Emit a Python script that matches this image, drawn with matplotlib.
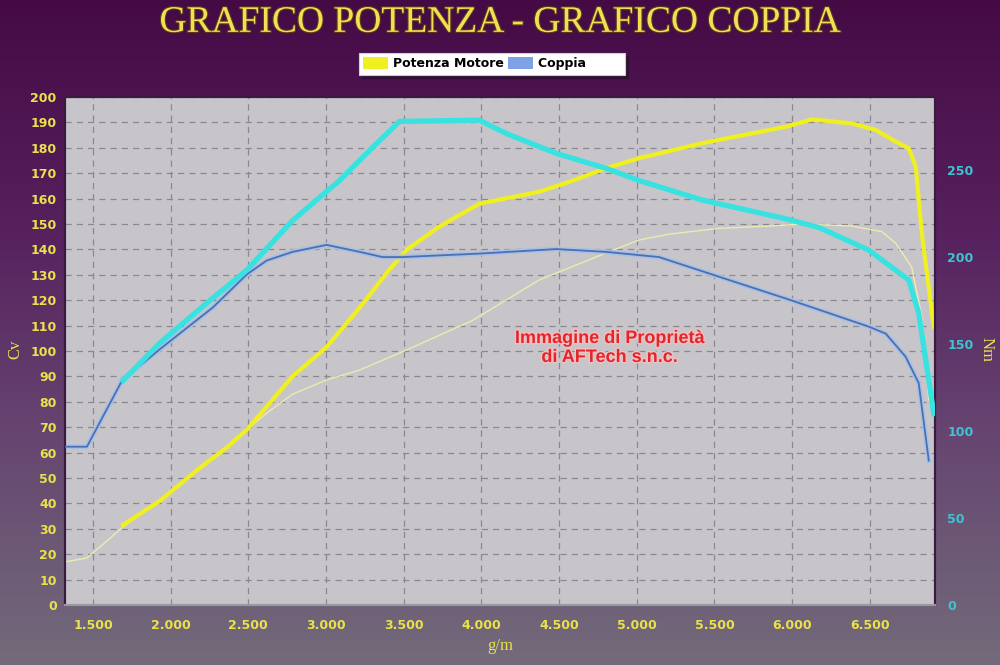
import numpy as np
import matplotlib
matplotlib.use("Agg")
import matplotlib.pyplot as plt
from matplotlib.patches import Patch
from matplotlib.ticker import FuncFormatter
import matplotlib.patheffects as pe

# ---------------- data ----------------
power_rpm = [1693, 1930, 2188, 2361, 2490, 2785, 3004, 3216, 3390, 3518, 3730, 3987,
             4373, 4585, 4803, 5015, 5420, 5961, 6128, 6385, 6539, 6668, 6751, 6796,
             6835, 6912]
power_cv = [31.5, 41, 54, 62, 69, 90, 101.6, 117, 130.7, 139.8, 149, 158,
            162.7, 167, 172, 175.9, 181.8, 188.3, 191.2, 189.6, 187, 182.4, 179.8, 172.6,
            146.4, 109.6]

power_orig_rpm = [1320, 1461, 1693, 1930, 2188, 2361, 2490, 2618, 2785, 3004, 3216, 3518,
                  3942, 4373, 4803, 5015, 5208, 5530, 5851, 6063, 6385, 6578, 6668, 6770,
                  6835, 6880]
power_orig_cv = [17, 18.5, 30.7, 41, 54, 62, 69, 75.6, 83, 88.6, 92.5, 100.4,
                 112, 128, 138.6, 143.7, 146, 148.3, 149.2, 150, 149.2, 147, 142.4, 133,
                 113.5, 80.7]

torque_rpm = [1693, 1930, 2252, 2490, 2785, 3087, 3300, 3473, 3987, 4161, 4482, 4803,
              5015, 5420, 5961, 6173, 6494, 6751, 6815, 6899, 6912]
torque_nm = [129, 150.6, 175, 192.5, 221, 244, 263, 278, 278.7, 271, 259.6, 251,
             244, 232.8, 222, 217, 204, 186.8, 167.8, 117.8, 110]

torque_orig_rpm = [1320, 1461, 1693, 1821, 1930, 2143, 2271, 2490, 2618, 2785, 3004, 3216,
                   3364, 3493, 3987, 4482, 4803, 5144, 5530, 6000, 6494, 6603, 6731, 6815,
                   6880]
torque_orig_nm = [91, 91, 130, 139, 147, 162, 171, 190, 198, 203, 207, 203,
                  200, 200, 202, 204.6, 203, 200, 188.7, 175, 160, 156, 142.7, 127.6,
                  83]

x_ticks = [1500, 2000, 2500, 3000, 3500, 4000, 4500, 5000, 5500, 6000, 6500]
cv_ticks = list(range(0, 201, 10))
nm_ticks = [0, 50, 100, 150, 200, 250]

title = "GRAFICO POTENZA - GRAFICO COPPIA"
legend_labels = ["Potenza Motore", "Coppia"]
watermark = "Immagine di Proprietà\ndi AFTech s.n.c."

# ---------------- styling ----------------
YEL = "#f0f020"
PALE = "#ecebb0"
CYAN = "#38e2e0"
BLUE = "#4a6fb5"
HALO = "#a9c0e2"
TXT_Y = "#e9e24a"
TXT_C = "#3fc3d3"
narrow = ["Liberation Sans Narrow", "DejaVu Sans"]

fig = plt.figure(figsize=(10, 6.65), dpi=100)

# gradient background
bg = fig.add_axes([0, 0, 1, 1], zorder=-10)
bg.set_axis_off()
stops = np.array([[0.27, 0.04, 0.27], [0.34, 0.13, 0.37], [0.40, 0.27, 0.44], [0.45, 0.42, 0.48]])
pos = np.array([0.0, 0.35, 0.65, 1.0])
t = np.linspace(0, 1, 400)
grad = np.stack([np.interp(t, pos, stops[:, i]) for i in range(3)], axis=1)
bg.imshow(grad[:, None, :], aspect="auto", extent=[0, 1, 0, 1])
bg.set_xlim(0, 1)
bg.set_ylim(0, 1)

ax = fig.add_axes([0.065, 0.0902, 0.870, 0.7639])
ax.set_facecolor("#c7c5c9")
ax2 = ax.twinx()

ax.set_xlim(1320, 6920)
ax.set_ylim(0, 200)
ax2.set_ylim(0, 292)

ax.set_xticks(x_ticks)
ax.xaxis.set_major_formatter(FuncFormatter(lambda v, p: f"{int(v):,}".replace(",", ".")))
ax.set_yticks(cv_ticks)
ax2.set_yticks(nm_ticks)

ax.grid(True, which="major", color="#8a8890", linestyle=(0, (5, 4)), linewidth=0.9)

for a in (ax, ax2):
    for s in a.spines.values():
        s.set_color("#3a1a3e")
        s.set_linewidth(1.5)
ax.spines["bottom"].set_color("#9a98a0")
ax2.spines["bottom"].set_color("#9a98a0")

ax.tick_params(axis="both", length=0)
ax2.tick_params(axis="y", length=0)
ax.tick_params(axis="y", colors=TXT_Y, labelsize=9, pad=6)
ax.tick_params(axis="x", colors=TXT_Y, labelsize=9, pad=10)
ax2.tick_params(axis="y", colors=TXT_C, labelsize=9, pad=9)
for lab in ax.get_yticklabels() + ax.get_xticklabels() + ax2.get_yticklabels():
    lab.set_family(narrow)
    lab.set_fontweight("bold")

# lines
ax.plot(power_orig_rpm, power_orig_cv, color=PALE, lw=1.0, zorder=3)
ax.plot(power_rpm, power_cv, color=YEL, lw=3.0, zorder=4, solid_joinstyle="round")
ax2.plot(torque_orig_rpm, torque_orig_nm, color=HALO, lw=3.6, zorder=2)
ax2.plot(torque_orig_rpm, torque_orig_nm, color=BLUE, lw=1.3, zorder=3)
ax2.plot(torque_rpm, torque_nm, color=CYAN, lw=3.8, zorder=4, solid_joinstyle="round")

# watermark
ax.text(0.626, 0.506, watermark, transform=ax.transAxes, ha="center", va="center",
        color="#e3262a", fontsize=13, fontweight="bold", family="Liberation Sans",
        linespacing=1.15, zorder=6,
        path_effects=[pe.withStroke(linewidth=2.0, foreground="#efc0c4")])

# axis labels
fig.text(0.015, 0.474, "Cv", rotation=90, ha="center", va="center", color=TXT_Y,
         family="Liberation Serif", fontsize=12)
fig.text(0.987, 0.474, "Nm", rotation=270, ha="center", va="center", color=TXT_Y,
         family="Liberation Serif", fontsize=12)
fig.text(0.50, 0.028, "g/m", ha="center", va="center", color=TXT_Y,
         family="Liberation Serif", fontsize=12)

# title
fig.text(0.50, 0.966, title, ha="center", va="center", color="#f3df55",
         family="Liberation Serif", fontsize=27,
         path_effects=[pe.withStroke(linewidth=1.6, foreground="#5a3a1a")])

# legend
handles = [Patch(facecolor=YEL, edgecolor="none"), Patch(facecolor="#7fa2e6", edgecolor="none")]
labels = [legend_labels[0], legend_labels[1] + "        "]
leg = fig.legend(handles, labels, loc="center", bbox_to_anchor=(0.492, 0.904),
                 ncol=2, frameon=True, fancybox=False,
                 shadow={"color": "#1a1020", "alpha": 0.45},
                 prop={"family": narrow, "weight": "bold", "size": 9},
                 handlelength=2.0, handleheight=1.1, handletextpad=0.4,
                 columnspacing=0.3, borderpad=0.35, borderaxespad=0)
leg.get_frame().set_facecolor("white")
leg.get_frame().set_edgecolor("#d0d0d0")
leg.get_frame().set_linewidth(0.8)

fig.savefig("out.png", dpi=100)
